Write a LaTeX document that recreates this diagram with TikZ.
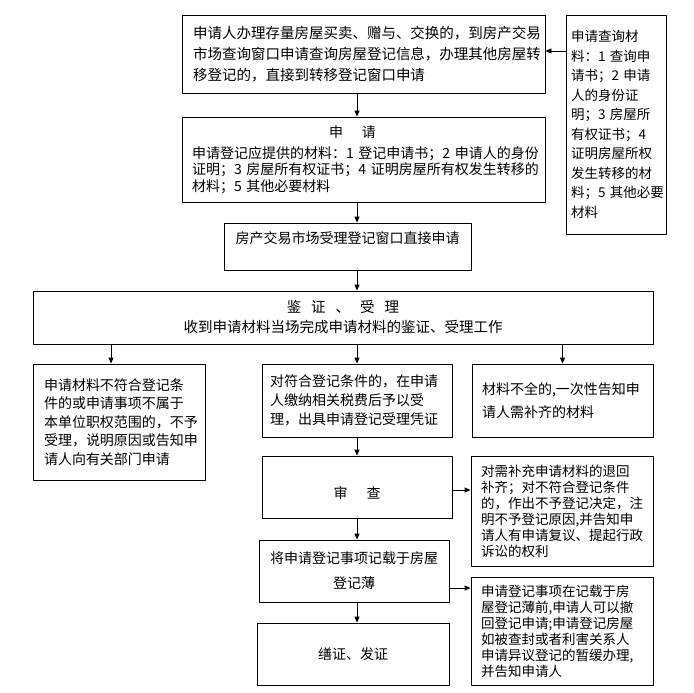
\documentclass[tikz,border=0pt]{standalone}
\usepackage{fontspec}
\setmainfont{Noto Sans CJK SC}
\usetikzlibrary{arrows.meta}
\begin{document}
\begin{tikzpicture}[x=1pt,y=-1pt,line width=.8pt,line cap=round,line join=round,>={Triangle[length=6pt,width=5pt]},
	kuang/.style={draw,inner sep=0pt,align=left},
	zi/.style 2 args={font=\fontsize{#1}{#2}\selectfont}]
	\useasboundingbox (0,0) rectangle (694,693);
	\coordinate (zx) at (357,0);
	\coordinate (y1) at (0,51);
	\node[kuang,zi={14.5}{21},minimum width=363,minimum height=78,text width=341] (sq) at (363.5,54) {申请人办理存量房屋买卖、赠与、交换的，到房产交易\\市场查询窗口申请查询房屋登记信息，办理其他房屋转\\移登记的，直接到转移登记窗口申请};
	\node[kuang,zi={13.5}{19.5},minimum width=100,minimum height=219,text width=90] (cl) at (616,124.5) {申请查询材\\料：1~查询申\\请书；2~申请\\人的身份证\\明；3~房屋所\\有权证书；4\\证明房屋所权\\发生转移的材\\料；5~其他必要\\材料};
	\node[kuang,zi={14}{16.5},minimum width=363,minimum height=85,text width=343] (sqb) at (363.5,159.5) {\makebox[343pt]{\hspace{-22pt}申\hspace{19pt}请}\\[4pt]申请登记应提供的材料：1~登记申请书；2~申请人的身份\\证明；3~房屋所有权证书；4~证明房屋所有权发生转移的\\材料；5~其他必要材料};
	\node[kuang,zi={14}{14},minimum width=247,minimum height=47,text depth=17pt] (ck) at (347.5,246.5) {房产交易市场受理登记窗口直接申请};
	\node[kuang,zi={14.5}{20},align=center,minimum width=620,minimum height=53] (jz) at (343,317.5) {鉴\hspace{10pt}证\hspace{10pt}、\hspace{10pt}受\hspace{10pt}理\\收到申请材料当场完成申请材料的鉴证、受理工作};
	\node[kuang,zi={14}{18.5},minimum width=172,minimum height=116,text width=150] (zl) at (119,422) {申请材料不符合登记条\\件的或申请事项不属于\\本单位职权范围的，不予\\受理，说明原因或告知申\\请人向有关部门申请};
	\node[kuang,zi={14}{19},minimum width=190,minimum height=73,text width=174] (zm) at (357,400.5) {对符合登记条件的，在申请\\人缴纳相关税费后予以受\\理，出具申请登记受理凭证};
	\node[kuang,zi={14}{23},minimum width=181,minimum height=73,text width=161] (zr) at (562.5,400.5) {材料不全的,一次性告知申\\请人需补齐的材料};
	\node[kuang,zi={14}{14},minimum width=190,minimum height=62,text height=25pt] (sc) at (357,487) {审\hspace{19pt}查};
	\node[kuang,zi={14}{25},align=center,minimum width=190,minimum height=62] (jl) at (354,571) {将申请登记事项记载于房屋\\登记薄};
	\node[kuang,zi={14}{14},minimum width=192,minimum height=62] (fz) at (353,654) {缮证、发证};
	\node[kuang,zi={13.5}{16},minimum width=182,minimum height=110,text width=162] (th) at (562,511) {对需补充申请材料的退回\\补齐；对不符合登记条件\\的，作出不予登记决定，注\\明不予登记原因,并告知申\\请人有申请复议、提起行政\\诉讼的权利};
	\node[kuang,zi={13.5}{16},minimum width=182,minimum height=108,text width=162] (zh) at (562,631) {申请登记事项在记载于房\\屋登记薄前,申请人可以撤\\回登记申请;申请登记房屋\\如被查封或者利害关系人\\申请异议登记的暂缓办理,\\并告知申请人};
	\draw[->] (cl.west |- y1) -- (sq.east |- y1);
	\foreach \a/\b in {sq/sqb,sqb/ck,ck/jz,jz/zm,zm/sc,sc/jl,jl/fz}
		\draw[->] (\a.south -| zx) -- (\b.north -| zx);
	\coordinate (p1) at ([xshift=-8pt]zl.north);
	\draw[->] (p1 |- jz.south) -- (p1);
	\draw[->] (zr.north |- jz.south) -- (zr.north);
	\coordinate (p2) at ([yshift=-3pt]sc.east);
	\draw[->] (p2) -- (p2 -| th.west);
	\coordinate (p3) at ([yshift=-17pt]jl.east);
	\draw[->] (p3) -- (p3 -| zh.west);
\end{tikzpicture}
\end{document}
